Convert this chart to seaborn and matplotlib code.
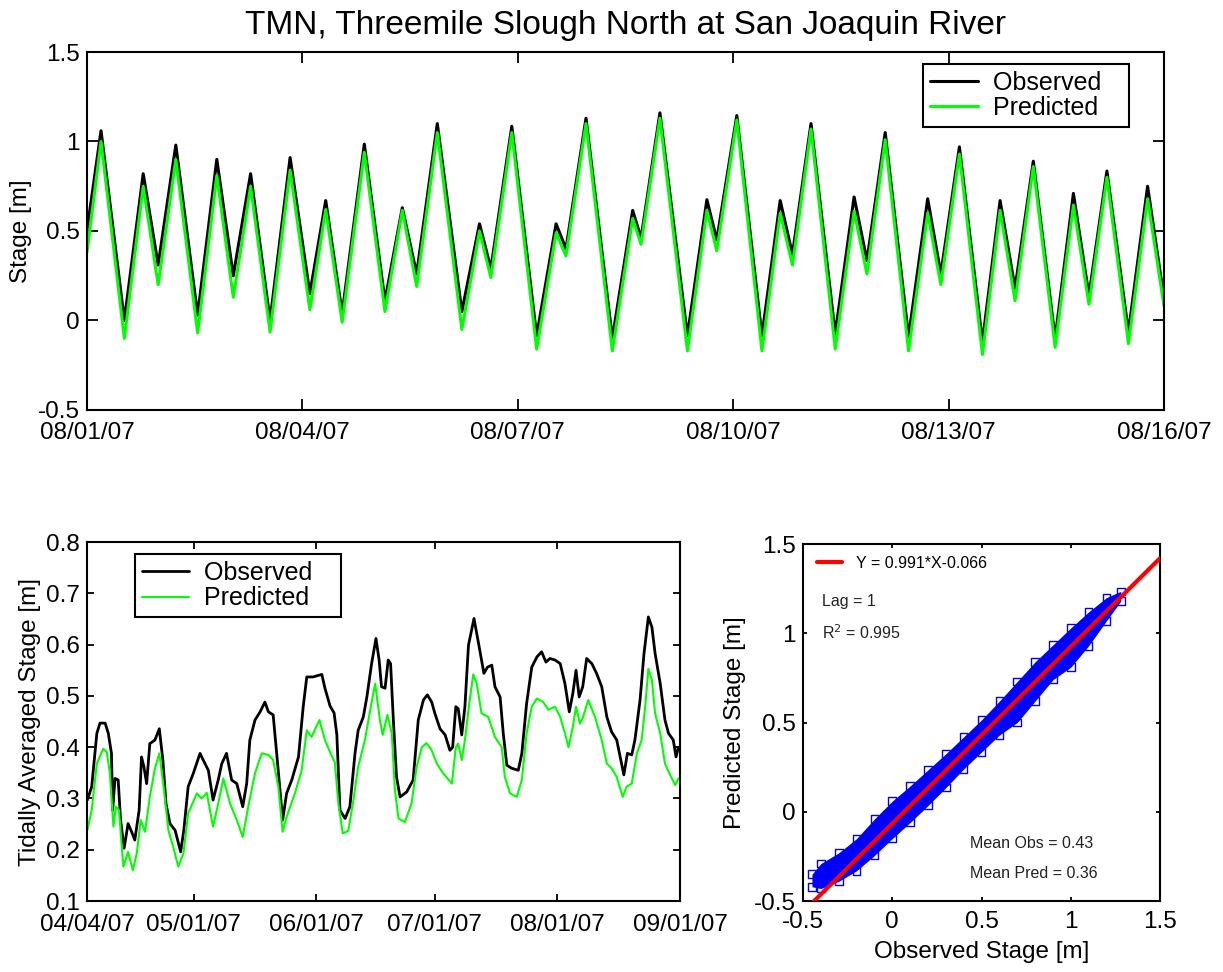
import numpy as np
import pandas as pd
import matplotlib
matplotlib.use("Agg")
import matplotlib.pyplot as plt
from matplotlib.ticker import FuncFormatter
import seaborn as sns

# ---------------- data ----------------
TITLE = "TMN, Threemile Slough North at San Joaquin River"

# Hourly stage, 08/01/07 - 08/16/07 (turning points), hours from 08/01/07 00:00
tide_hours = [0.0, 4.7, 12.5, 18.8, 23.8, 29.7, 37.0, 43.4, 48.9, 54.7, 61.2, 67.9, 74.5,
              79.8, 85.3, 92.7, 99.6, 105.4, 110.2, 117.1, 125.3, 131.2, 135.0, 142.0,
              150.3, 156.8, 160.1, 166.8, 175.6, 182.4, 185.2, 191.5, 200.7, 207.2,
              210.5, 217.2, 225.6, 231.7, 235.8, 242.0, 250.1, 256.4, 260.7, 266.8,
              274.6, 281.0, 285.4, 291.6, 299.3, 305.2, 310.2, 316.3, 323.6, 329.7,
              334.9, 340.9, 348.1, 354.5, 360.0]
tide_observed = [0.50, 1.06, 0.00, 0.82, 0.31, 0.98, 0.03, 0.90, 0.25, 0.82, 0.00, 0.91, 0.15,
                 0.67, 0.04, 0.985, 0.11, 0.63, 0.26, 1.10, 0.05, 0.54, 0.29, 1.085,
                 -0.085, 0.54, 0.40, 1.13, -0.10, 0.615, 0.46, 1.16, -0.085, 0.675,
                 0.45, 1.145, -0.085, 0.67, 0.37, 1.10, -0.075, 0.69, 0.335, 1.05,
                 -0.09, 0.68, 0.26, 0.97, -0.12, 0.67, 0.18, 0.89, -0.10, 0.71,
                 0.14, 0.835, -0.065, 0.75, 0.12]
tide_predicted = [0.38, 1.00, -0.10, 0.75, 0.20, 0.90, -0.07, 0.81, 0.13, 0.75, -0.065, 0.84, 0.06,
                  0.62, -0.01, 0.94, 0.05, 0.615, 0.19, 1.05, -0.05, 0.50, 0.24, 1.05,
                  -0.16, 0.49, 0.36, 1.10, -0.17, 0.57, 0.425, 1.13, -0.17, 0.615,
                  0.39, 1.12, -0.17, 0.60, 0.31, 1.07, -0.16, 0.61, 0.26, 1.01,
                  -0.17, 0.60, 0.20, 0.93, -0.19, 0.615, 0.11, 0.86, -0.15, 0.645,
                  0.09, 0.80, -0.13, 0.68, 0.08]

# Tidally averaged stage, days from 04/04/07
avg_obs_days = [0.1, 1.2, 2.5, 3.3, 4.6, 5.4, 6.2, 6.5, 7.1, 7.9, 8.5, 9.4, 10.4, 11.3, 12.1,
                13.2, 13.8, 14.4, 15.1, 15.9, 17.2, 18.3, 19.2, 20.0, 21.0, 22.3, 23.7,
                24.5, 25.6, 26.9, 28.6, 29.4, 30.7, 31.9, 33.2, 34.1, 35.3, 36.6, 37.9,
                39.4, 40.4, 41.2, 42.5, 43.8, 45.0, 45.9, 47.1, 48.0, 48.6, 49.5, 50.5,
                51.8, 53.5, 54.7, 55.6, 57.2, 59.4, 60.2, 61.5, 62.5, 63.2, 64.0, 65.3,
                66.5, 67.8, 68.6, 69.9, 70.8, 72.0, 73.1, 73.9, 74.5, 75.4, 76.2, 76.8,
                77.5, 78.3, 79.2, 80.9, 82.5, 83.8, 85.1, 86.1, 87.2, 88.0, 89.3, 90.6,
                91.8, 92.5, 93.3, 93.9, 94.8, 95.6, 96.5, 97.9, 99.2, 100.4, 101.3,
                102.4, 103.2, 104.5, 105.3, 106.2, 107.4, 109.1, 110.0, 111.2, 112.5,
                113.8, 115.0, 116.1, 117.1, 118.4, 119.7, 120.9, 122.0, 122.9, 123.7,
                124.5, 125.4, 126.4, 127.7, 128.9, 130.2, 131.5, 132.7, 134.0, 135.3,
                135.8, 136.7, 137.8, 138.6, 139.9, 140.9, 142.0, 142.9, 143.7, 145.0,
                146.2, 147.1, 148.3, 149.0, 149.6, 150.0]
avg_obs = [0.297, 0.323, 0.427, 0.447, 0.447, 0.427, 0.388, 0.277, 0.339, 0.336, 0.258,
           0.203, 0.251, 0.235, 0.219, 0.277, 0.381, 0.362, 0.329, 0.407, 0.414, 0.436,
           0.375, 0.290, 0.251, 0.238, 0.196, 0.238, 0.323, 0.349, 0.388, 0.375, 0.355,
           0.297, 0.336, 0.368, 0.388, 0.336, 0.329, 0.284, 0.329, 0.414, 0.453, 0.469,
           0.488, 0.469, 0.463, 0.388, 0.336, 0.258, 0.310, 0.336, 0.381, 0.479, 0.537,
           0.537, 0.542, 0.515, 0.480, 0.467, 0.425, 0.277, 0.261, 0.284, 0.388, 0.433,
           0.459, 0.498, 0.563, 0.612, 0.570, 0.518, 0.515, 0.570, 0.563, 0.453, 0.342,
           0.303, 0.313, 0.336, 0.453, 0.492, 0.502, 0.488, 0.466, 0.436, 0.424, 0.394,
           0.400, 0.479, 0.475, 0.424, 0.479, 0.599, 0.651, 0.596, 0.544, 0.556, 0.560,
           0.518, 0.498, 0.427, 0.365, 0.359, 0.355, 0.388, 0.485, 0.556, 0.576, 0.586,
           0.566, 0.573, 0.570, 0.563, 0.524, 0.469, 0.505, 0.550, 0.498, 0.518, 0.573,
           0.563, 0.544, 0.518, 0.459, 0.430, 0.414, 0.365, 0.346, 0.388, 0.385, 0.414,
           0.492, 0.583, 0.654, 0.634, 0.583, 0.524, 0.453, 0.427, 0.414, 0.381, 0.400,
           0.394]
avg_pred_days = [0.1, 1.2, 2.5, 4.1, 5.0, 5.8, 6.7, 7.3, 8.1, 9.2, 10.4, 11.6, 12.6, 13.6,
                 14.7, 15.9, 17.2, 18.3, 19.3, 20.6, 21.8, 23.1, 24.4, 25.6, 27.8, 29.0,
                 30.3, 31.9, 33.2, 34.5, 36.2, 37.9, 39.4, 40.8, 42.5, 44.2, 45.9, 47.1,
                 48.4, 49.5, 50.5, 52.6, 54.3, 55.6, 56.8, 58.8, 60.2, 61.5, 62.7, 63.6,
                 64.7, 66.1, 67.4, 68.6, 70.3, 71.8, 72.9, 74.1, 74.8, 76.0, 77.1, 77.9,
                 78.8, 80.4, 82.1, 83.4, 84.7, 85.9, 87.2, 88.5, 90.1, 92.3, 93.3, 93.9,
                 94.8, 95.6, 96.7, 97.7, 98.6, 99.8, 101.5, 103.2, 104.9, 105.7, 107.0,
                 108.7, 110.0, 111.2, 112.5, 113.8, 115.4, 116.7, 118.4, 119.7, 120.9,
                 121.8, 122.9, 123.7, 124.7, 125.5, 126.8, 128.5, 130.2, 131.5, 132.7,
                 134.0, 135.5, 136.5, 137.8, 139.1, 140.3, 141.2, 142.0, 142.9, 143.7,
                 145.0, 146.2, 147.5, 148.8, 149.6, 150.0]
avg_pred = [0.238, 0.277, 0.368, 0.397, 0.391, 0.349, 0.245, 0.284, 0.277, 0.167, 0.196,
            0.160, 0.193, 0.258, 0.235, 0.303, 0.359, 0.388, 0.329, 0.238, 0.206, 0.167,
            0.193, 0.271, 0.310, 0.300, 0.311, 0.245, 0.290, 0.339, 0.290, 0.258, 0.225,
            0.284, 0.349, 0.388, 0.385, 0.375, 0.323, 0.235, 0.264, 0.310, 0.355, 0.433,
            0.420, 0.453, 0.414, 0.390, 0.370, 0.290, 0.232, 0.237, 0.297, 0.362, 0.414,
            0.479, 0.524, 0.453, 0.424, 0.463, 0.427, 0.316, 0.261, 0.254, 0.290, 0.362,
            0.400, 0.408, 0.394, 0.368, 0.349, 0.329, 0.400, 0.407, 0.375, 0.414, 0.485,
            0.542, 0.524, 0.466, 0.459, 0.420, 0.400, 0.342, 0.310, 0.303, 0.336, 0.427,
            0.479, 0.495, 0.488, 0.473, 0.479, 0.459, 0.427, 0.400, 0.440, 0.479, 0.446,
            0.459, 0.492, 0.459, 0.414, 0.368, 0.359, 0.342, 0.303, 0.323, 0.329, 0.388,
            0.414, 0.479, 0.553, 0.531, 0.466, 0.427, 0.368, 0.346, 0.326, 0.339, 0.339]

# Observed vs predicted hourly stage: extent of the point cloud
cloud_obs = [-0.45, -0.40, -0.30, -0.20, -0.10, 0.00, 0.10, 0.20, 0.30, 0.40, 0.50, 0.60,
             0.70, 0.80, 0.90, 1.00, 1.10, 1.20, 1.28]
cloud_pred_hi = [-0.35, -0.29, -0.23, -0.15, -0.04, 0.06, 0.145, 0.235, 0.325, 0.42, 0.515,
                 0.62, 0.73, 0.84, 0.935, 1.03, 1.12, 1.20, 1.235]
cloud_pred_lo = [-0.42, -0.43, -0.39, -0.33, -0.245, -0.15, -0.06, 0.035, 0.135, 0.24, 0.335,
                 0.43, 0.50, 0.62, 0.74, 0.81, 0.93, 1.07, 1.18]
fit_slope, fit_intercept = 0.991, -0.066
lag_hours = 1
r_squared = 0.995
mean_obs, mean_pred = 0.43, 0.36

# ---------------- style ----------------
sns.set_style("ticks")
plt.rcParams["font.family"] = ["Liberation Sans", "DejaVu Sans"]
for key in ("text.color", "axes.labelcolor", "xtick.color", "ytick.color",
            "axes.edgecolor"):
    plt.rcParams[key] = "black"
plt.rcParams["axes.linewidth"] = 1.5

GREEN = "#00ff00"
BLUE = "#0000ff"
FS = 17.5
LEG_FS = 18

fig = plt.figure(figsize=(12.23, 9.72), dpi=100)
ax_top = fig.add_axes([0.0711, 0.5782, 0.8807, 0.3683])
ax_avg = fig.add_axes([0.0711, 0.0730, 0.4849, 0.3693])
ax_sc = fig.add_axes([0.6566, 0.0730, 0.2919, 0.3673])

g_fmt = FuncFormatter(lambda v, p: f"{v:g}")


def box_axes(ax, ticklen, xpad=9):
    for s in ax.spines.values():
        s.set_visible(True)
        s.set_color("black")
        s.set_linewidth(1.5)
    ax.tick_params(direction="in", top=True, right=True, length=ticklen, width=1.3,
                   labelsize=FS, colors="black")
    ax.tick_params(axis="x", pad=xpad)
    ax.tick_params(axis="y", pad=5)
    ax.minorticks_off()
    ax.grid(False)


def boxed_legend(ax, **kw):
    leg = ax.legend(fontsize=LEG_FS, handlelength=1.9, handletextpad=0.6,
                    labelspacing=0.05, borderpad=0.28, borderaxespad=0,
                    fancybox=False, edgecolor="black", framealpha=1, frameon=True, **kw)
    leg.get_frame().set_linewidth(1.5)
    return leg


# ---------------- top: hourly stage ----------------
t0 = pd.Timestamp("2007-08-01")
tide = pd.DataFrame({
    "time": t0 + pd.to_timedelta(tide_hours, unit="h"),
    "Observed": tide_observed,
    "Predicted": tide_predicted,
})
sns.lineplot(data=tide, x="time", y="Observed", ax=ax_top, color="black", lw=2.2,
             label="Observed   ", estimator=None)
sns.lineplot(data=tide, x="time", y="Predicted", ax=ax_top, color=GREEN, lw=2.2,
             label="Predicted  ", estimator=None)
ax_top.set_xlim(t0, pd.Timestamp("2007-08-16"))
ax_top.set_ylim(-0.5, 1.5)
top_ticks = pd.date_range("2007-08-01", "2007-08-16", freq="3D")
ax_top.set_xticks(top_ticks)
ax_top.set_xticklabels([d.strftime("%m/%d/%y") for d in top_ticks])
ax_top.set_yticks([-0.5, 0, 0.5, 1, 1.5])
ax_top.yaxis.set_major_formatter(g_fmt)
ax_top.set_xlabel("")
ax_top.set_ylabel("Stage [m]", fontsize=FS, labelpad=4)
ax_top.set_title(TITLE, fontsize=24, pad=13)
box_axes(ax_top, 8)
boxed_legend(ax_top, loc="upper right", bbox_to_anchor=(0.9675, 0.9665))

# ---------------- bottom left: tidally averaged ----------------
a0 = pd.Timestamp("2007-04-04")
avg_o = pd.DataFrame({"time": a0 + pd.to_timedelta(avg_obs_days, unit="D"), "v": avg_obs})
avg_p = pd.DataFrame({"time": a0 + pd.to_timedelta(avg_pred_days, unit="D"), "v": avg_pred})
sns.lineplot(data=avg_o, x="time", y="v", ax=ax_avg, color="black", lw=2.0,
             label="Observed   ", estimator=None)
sns.lineplot(data=avg_p, x="time", y="v", ax=ax_avg, color=GREEN, lw=1.5,
             label="Predicted  ", estimator=None)
ax_avg.set_xlim(a0, pd.Timestamp("2007-09-01"))
ax_avg.set_ylim(0.1, 0.8)
avg_ticks = pd.to_datetime(["2007-04-04", "2007-05-01", "2007-06-01", "2007-07-01",
                            "2007-08-01", "2007-09-01"])
ax_avg.set_xticks(avg_ticks)
ax_avg.set_xticklabels([d.strftime("%m/%d/%y") for d in avg_ticks])
ax_avg.set_yticks(np.arange(0.1, 0.81, 0.1))
ax_avg.yaxis.set_major_formatter(FuncFormatter(lambda v, p: f"{v:.1f}"))
ax_avg.set_xlabel("")
ax_avg.set_ylabel("Tidally Averaged Stage [m]", fontsize=FS, labelpad=4)
box_axes(ax_avg, 5)
boxed_legend(ax_avg, loc="upper left", bbox_to_anchor=(0.081, 0.9666))

# ---------------- bottom right: scatter ----------------
cloud = pd.DataFrame({
    "obs": cloud_obs + cloud_obs,
    "pred": cloud_pred_hi + cloud_pred_lo,
})
ax_sc.fill_between(cloud_obs, cloud_pred_lo, cloud_pred_hi, color=BLUE, lw=0, zorder=2)
sns.scatterplot(data=cloud, x="obs", y="pred", ax=ax_sc, marker="s", s=30,
                facecolor="none", edgecolor=BLUE, linewidth=1.0, zorder=3, legend=False)
fit_x = np.array([-0.5, 1.5])
fit_df = pd.DataFrame({"x": fit_x, "y": fit_slope * fit_x + fit_intercept})
sns.lineplot(data=fit_df, x="x", y="y", ax=ax_sc, color="red", lw=3.0, zorder=4,
             label=f"Y = {fit_slope}*X{fit_intercept:+.3f}", estimator=None)
ax_sc.set_xlim(-0.5, 1.5)
ax_sc.set_ylim(-0.5, 1.5)
ax_sc.set_xticks([-0.5, 0, 0.5, 1, 1.5])
ax_sc.set_yticks([-0.5, 0, 0.5, 1, 1.5])
ax_sc.xaxis.set_major_formatter(g_fmt)
ax_sc.yaxis.set_major_formatter(g_fmt)
ax_sc.set_xlabel("Observed Stage [m]", fontsize=FS, labelpad=6)
ax_sc.set_ylabel("Predicted Stage [m]", fontsize=FS, labelpad=6)
box_axes(ax_sc, 3, xpad=7)
ax_sc.legend(loc="upper left", bbox_to_anchor=(0.02, 0.985), frameon=False,
             fontsize=11.5, handlelength=1.6, handletextpad=0.9, borderaxespad=0)
small = dict(fontsize=11.5, transform=ax_sc.transAxes, color="#222222")
ax_sc.text(0.053, 0.84, f"Lag = {lag_hours}", va="center", **small)
ax_sc.text(0.053, 0.753, f"R$^2$ = {r_squared}", va="center", **small)
ax_sc.text(0.468, 0.16, f"Mean Obs = {mean_obs}", va="center", **small)
ax_sc.text(0.468, 0.078, f"Mean Pred = {mean_pred}", va="center", **small)

fig.savefig("out.png", dpi=100)
